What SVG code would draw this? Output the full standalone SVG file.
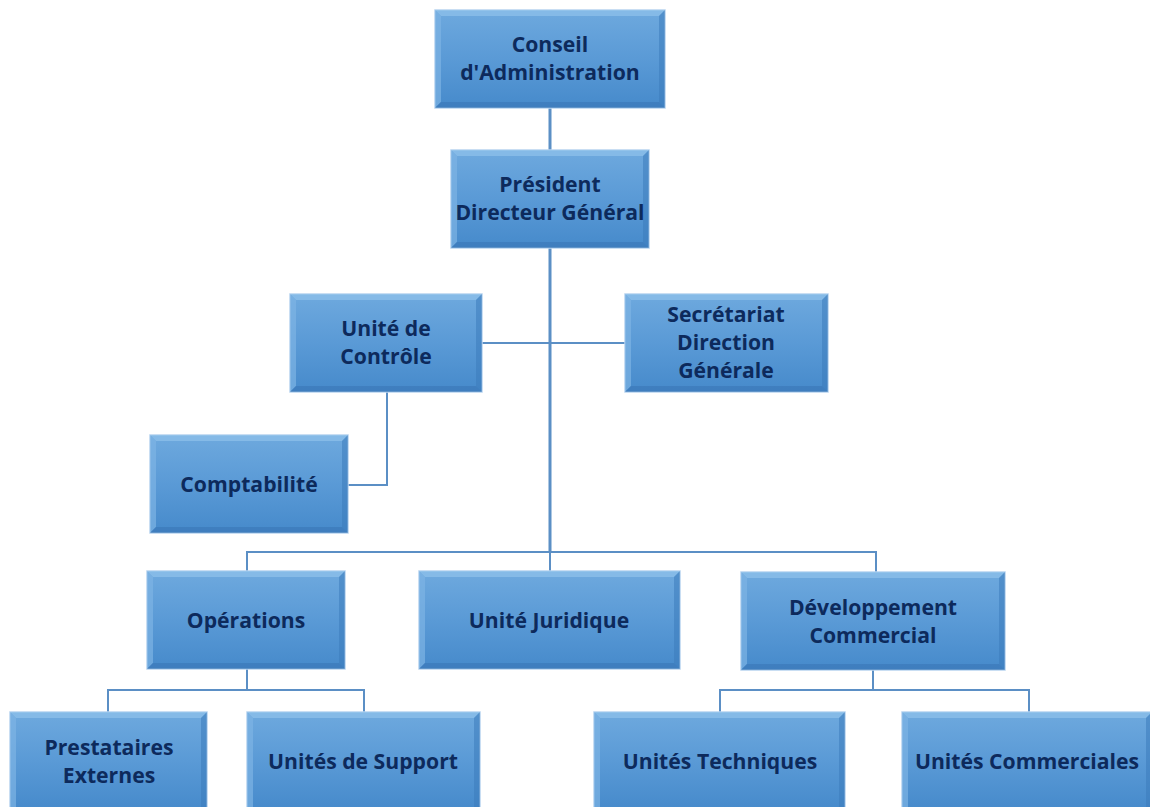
<svg xmlns="http://www.w3.org/2000/svg" width="1150" height="807" viewBox="0 0 1150 807">
<defs>
<linearGradient id="g" x1="0" y1="0" x2="0" y2="1">
<stop offset="0" stop-color="#6ea9de"/>
<stop offset="0.5" stop-color="#5a9ad6"/>
<stop offset="1" stop-color="#468acb"/>
</linearGradient>
</defs>
<style>
.box{fill:url(#g);stroke:#b8d4f0;stroke-width:1.5}
.bt{fill:#8ec0ea;opacity:.75}
.bl{fill:#7db4e4;opacity:.7}
.br{fill:#3d7bbb;opacity:.55}
.bb{fill:#3a77b6;opacity:.6}
text{font-family:"Open Sans",Lato,"Liberation Sans",sans-serif;font-weight:bold;font-size:21.2px;fill:#0d2a5c;text-anchor:middle;dominant-baseline:central}
.c{fill:none;stroke:#5b8fc5;stroke-width:2}
</style>
<rect width="1150" height="807" fill="#ffffff"/>
<g id="connectors">
<path class="c" style="stroke-width:3" d="M550 108V552"/>
<path class="c" d="M482 343H625"/>
<path class="c" d="M387 392V485H348"/>
<path class="c" d="M247 571V552H876V572M550 552V571"/>
<path class="c" d="M247 669V690M108 712V690H364V712"/>
<path class="c" d="M873 670V690M720 712V690H1029V712"/>
</g>
<g id="n1">
<rect class="box" x="435" y="10" width="230" height="98"/>
<polygon class="bt" points="435,10 665,10 659,16 441,16"/><polygon class="bl" points="435,10 441,16 441,102 435,108"/><polygon class="br" points="665,10 665,108 659,102 659,16"/><polygon class="bb" points="435,108 665,108 659,102 441,102"/>
<text x="550" y="43">Conseil</text><text x="550" y="71">d'Administration</text>
</g>
<g id="n2">
<rect class="box" x="451" y="150" width="198" height="98"/>
<polygon class="bt" points="451,150 649,150 643,156 457,156"/><polygon class="bl" points="451,150 457,156 457,242 451,248"/><polygon class="br" points="649,150 649,248 643,242 643,156"/><polygon class="bb" points="451,248 649,248 643,242 457,242"/>
<text x="550" y="183">Président</text><text x="550" y="211">Directeur Général</text>
</g>
<g id="n3">
<rect class="box" x="290" y="294" width="192" height="98"/>
<polygon class="bt" points="290,294 482,294 476,300 296,300"/><polygon class="bl" points="290,294 296,300 296,386 290,392"/><polygon class="br" points="482,294 482,392 476,386 476,300"/><polygon class="bb" points="290,392 482,392 476,386 296,386"/>
<text x="386" y="327">Unité de</text><text x="386" y="355">Contrôle</text>
</g>
<g id="n4">
<rect class="box" x="625" y="294" width="203" height="98"/>
<polygon class="bt" points="625,294 828,294 822,300 631,300"/><polygon class="bl" points="625,294 631,300 631,386 625,392"/><polygon class="br" points="828,294 828,392 822,386 822,300"/><polygon class="bb" points="625,392 828,392 822,386 631,386"/>
<text x="726" y="313">Secrétariat</text><text x="726" y="341">Direction</text><text x="726" y="369">Générale</text>
</g>
<g id="n5">
<rect class="box" x="150" y="435" width="198" height="98"/>
<polygon class="bt" points="150,435 348,435 342,441 156,441"/><polygon class="bl" points="150,435 156,441 156,527 150,533"/><polygon class="br" points="348,435 348,533 342,527 342,441"/><polygon class="bb" points="150,533 348,533 342,527 156,527"/>
<text x="249" y="483">Comptabilité</text>
</g>
<g id="n6">
<rect class="box" x="147" y="571" width="198" height="98"/>
<polygon class="bt" points="147,571 345,571 339,577 153,577"/><polygon class="bl" points="147,571 153,577 153,663 147,669"/><polygon class="br" points="345,571 345,669 339,663 339,577"/><polygon class="bb" points="147,669 345,669 339,663 153,663"/>
<text x="246" y="619">Opérations</text>
</g>
<g id="n7">
<rect class="box" x="419" y="571" width="261" height="98"/>
<polygon class="bt" points="419,571 680,571 674,577 425,577"/><polygon class="bl" points="419,571 425,577 425,663 419,669"/><polygon class="br" points="680,571 680,669 674,663 674,577"/><polygon class="bb" points="419,669 680,669 674,663 425,663"/>
<text x="549" y="619">Unité Juridique</text>
</g>
<g id="n8">
<rect class="box" x="741" y="572" width="264" height="98"/>
<polygon class="bt" points="741,572 1005,572 999,578 747,578"/><polygon class="bl" points="741,572 747,578 747,664 741,670"/><polygon class="br" points="1005,572 1005,670 999,664 999,578"/><polygon class="bb" points="741,670 1005,670 999,664 747,664"/>
<text x="873" y="606">Développement</text><text x="873" y="634">Commercial</text>
</g>
<g id="n9">
<rect class="box" x="10" y="712" width="197" height="98"/>
<polygon class="bt" points="10,712 207,712 201,718 16,718"/><polygon class="bl" points="10,712 16,718 16,810 10,810"/><polygon class="br" points="207,712 207,810 201,810 201,718"/>
<text x="109" y="746">Prestataires</text><text x="109" y="774">Externes</text>
</g>
<g id="n10">
<rect class="box" x="247" y="712" width="233" height="98"/>
<polygon class="bt" points="247,712 480,712 474,718 253,718"/><polygon class="bl" points="247,712 253,718 253,810 247,810"/><polygon class="br" points="480,712 480,810 474,810 474,718"/>
<text x="363" y="760">Unités de Support</text>
</g>
<g id="n11">
<rect class="box" x="594" y="712" width="251" height="98"/>
<polygon class="bt" points="594,712 845,712 839,718 600,718"/><polygon class="bl" points="594,712 600,718 600,810 594,810"/><polygon class="br" points="845,712 845,810 839,810 839,718"/>
<text x="720" y="760">Unités Techniques</text>
</g>
<g id="n12">
<rect class="box" x="902" y="712" width="250" height="98"/>
<polygon class="bt" points="902,712 1152,712 1146,718 908,718"/><polygon class="bl" points="902,712 908,718 908,810 902,810"/><polygon class="br" points="1152,712 1152,810 1146,810 1146,718"/>
<text x="1027" y="760">Unités Commerciales</text>
</g>
</svg>
